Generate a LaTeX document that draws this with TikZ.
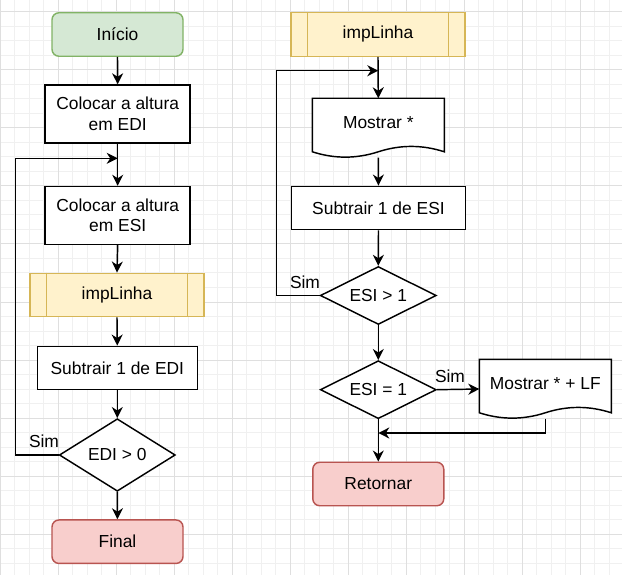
\documentclass[tikz,border=0pt]{standalone}
\usepackage{fontspec}
\setmainfont{Liberation Sans}
\usetikzlibrary{shapes.geometric,arrows.meta,calc,backgrounds}
\pgfdeclarelayer{gridlayer}
\pgfsetlayers{gridlayer,background,main}
\definecolor{startfill}{HTML}{D5E8D4}
\definecolor{startline}{HTML}{82B366}
\definecolor{procfill}{HTML}{FFF2CC}
\definecolor{procline}{HTML}{D6B656}
\definecolor{endfill}{HTML}{F8CECC}
\definecolor{endline}{HTML}{B85450}
\definecolor{gridminor}{HTML}{F0F0F0}
\definecolor{gridmajor}{HTML}{DFDFDF}
\newcommand\docoutline[1]{%
  \draw[line width=1.45pt, fill=white] let \p1=(#1.north west), \p2=(#1.south east),
    \n1={\x2-\x1}, \n2={\y2-\y1} in
    (\x1,\y1) -- (\x2,\y1) -- (\x2,{\y1+0.9*\n2})
    .. controls ({\x1+5/6*\n1},{\y1+0.78*\n2}) and ({\x1+2/3*\n1},{\y1+0.78*\n2}) .. ({\x1+0.5*\n1},{\y1+0.9*\n2})
    .. controls ({\x1+1/3*\n1},{\y1+1.02*\n2}) and ({\x1+1/6*\n1},{\y1+1.02*\n2}) .. (\x1,{\y1+0.9*\n2}) -- cycle;}
\newcommand\procbars[1]{%
  \draw[procline, line width=1.45pt]
    ($(#1.north west)+(17.4,0)$) -- ($(#1.south west)+(17.4,0)$)
    ($(#1.north east)+(-17.4,0)$) -- ($(#1.south east)+(-17.4,0)$);}
\begin{document}
\begin{tikzpicture}[x=1pt,y=-1pt,
  base/.style={font=\fontsize{17.4pt}{20.5pt}\selectfont, inner sep=0pt, align=center, line width=1.45pt},
  box/.style={base, draw=black, fill=white},
  term/.style={base, rounded corners=7pt, minimum width=131pt, minimum height=43.5pt},
  startst/.style={term, draw=startline, fill=startfill},
  endst/.style={term, draw=endline, fill=endfill},
  proc/.style={base, draw=procline, fill=procfill, minimum width=174pt, minimum height=43.5pt},
  dec/.style={base, diamond, shape aspect=2, draw=black, fill=white, minimum width=116pt, minimum height=58pt},
  docnode/.style={base, minimum width=130.5pt, minimum height=58pt, text height=9pt, text depth=7.7pt},
  arr/.style={line width=1.45pt, -{Stealth[length=11pt,width=11pt,inset=3.5pt]}},
  lbl/.style={base}]
\useasboundingbox (0,0) rectangle (622,575);
\begin{pgfonlayer}{gridlayer}
  \fill[white] (0,0) rectangle (622,575);
  \foreach \k in {0,...,42} \draw[gridminor, line width=1pt] ({0.3+14.5*\k},0) -- ({0.3+14.5*\k},575);
  \foreach \k in {0,...,38} \draw[gridminor, line width=1pt] (0,{12+14.5*\k}) -- (622,{12+14.5*\k});
  \foreach \k in {0,...,10} \draw[gridmajor, line width=1pt] ({0.3+58*\k},0) -- ({0.3+58*\k},575);
  \foreach \k in {0,...,9} \draw[gridmajor, line width=1pt] (0,{12+58*\k}) -- (622,{12+58*\k});
\end{pgfonlayer}

% left column
\node[startst] (start) at (117.5,34.5) {Início};
\node[box, minimum width=145pt, minimum height=58pt] (b1) at (117.7,114) {Colocar a altura\\em EDI};
\node[box, minimum width=145pt, minimum height=58pt] (b2) at (117.7,215.5) {Colocar a altura\\em ESI};
\node[proc] (imp1) at (117,295) {impLinha};
\procbars{imp1}
\node[box, minimum width=160pt, minimum height=43.5pt] (s1) at (117.3,368) {Subtrair 1 de EDI};
\node[dec, minimum height=72.5pt] (d1) at (117.3,455) {EDI > 0};
\node[endst] (fin) at (117.5,541.7) {Final};
\coordinate (j1) at (117.7,158.3);
\node[lbl] (sim1) at (44,441) {Sim};

% right column
\node[proc] (imp2) at (378,34.5) {impLinha};
\procbars{imp2}
\node[docnode] (m1) at (378.3,128) {Mostrar *};
\begin{pgfonlayer}{background}\docoutline{m1}\end{pgfonlayer}
\node[box, minimum width=174pt, minimum height=43.5pt] (s2) at (378.5,208) {Subtrair 1 de ESI};
\node[dec] (d2) at (378.3,295.5) {ESI > 1};
\node[dec] (d3) at (378.3,389.7) {ESI = 1};
\node[docnode] (m2) at (545.3,389) {Mostrar * + LF};
\begin{pgfonlayer}{background}\docoutline{m2}\end{pgfonlayer}
\node[endst] (ret) at (378.3,484) {Retornar};
\coordinate (j2) at (378.3,70.7);
\coordinate (j3) at (378.3,433);
\node[lbl] (sim2) at (305,282) {Sim};
\node[lbl] (sim3) at (450,376) {Sim};

% connectors left
\draw[arr] (start.south) -- (b1.north);
\draw[arr] (b1.south) -- (b2.north);
\draw[arr] (b2.south) -- (imp1.north);
\draw[arr] (imp1.south) -- (s1.north);
\draw[arr] (s1.south) -- (d1.north);
\draw[arr] (d1.south) -- (fin.north);
\draw[arr] (d1.west) -- ++(-43,0) |- (j1);

% connectors right
\draw[arr] (imp2.south) -- (m1.north);
\draw[arr] (m1.south) -- (s2.north);
\draw[arr] (s2.south) -- (d2.north);
\draw[arr] (d2.south) -- (d3.north);
\draw[arr] (d2.west) -- ++(-43,0) |- (j2);
\draw[arr] (d3.east) -- (m2.west);
\draw[arr] (m2.south) |- (j3);
\draw[arr] (d3.south) -- (ret.north);
\end{tikzpicture}
\end{document}
